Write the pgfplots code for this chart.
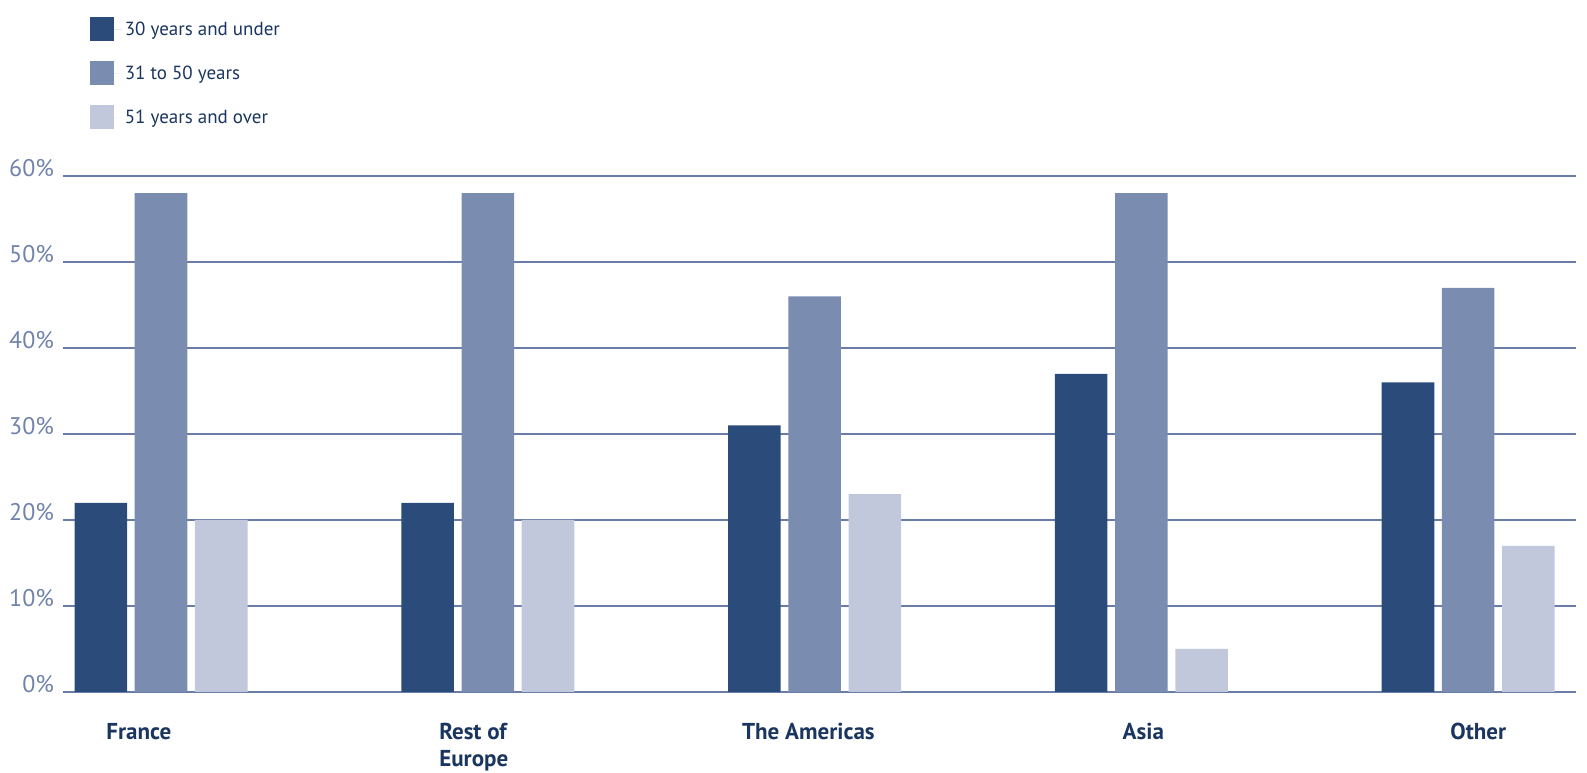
\documentclass[border=0pt]{standalone}
\usepackage{pgfplots}
\pgfplotsset{compat=1.18}
\usepackage{fontspec}
\setmainfont{PT Sans}
\definecolor{c1}{HTML}{2B4C7A}
\definecolor{c2}{HTML}{7A8CAF}
\definecolor{c3}{HTML}{C2C8DC}
\definecolor{gridc}{HTML}{6A7DA8}
\definecolor{tickc}{HTML}{7083AB}
\definecolor{navy}{HTML}{1A3560}
\begin{document}
\begin{tikzpicture}
\useasboundingbox (0,0) rectangle (793.5bp,386.5bp);
\begin{axis}[
  at={(31.5bp,40.5bp)}, anchor=south west,
  scale only axis, width=756.5bp, height=258bp,
  ymin=0, ymax=60, xmin=-0.3, xmax=4.33,
  ybar=3.8bp, bar width=26.3bp,
  axis line style={draw=none},
  ymajorgrids, grid style={gridc, line width=0.8bp},
  major tick length=0,
  ytick={0,10,...,60},
  yticklabel={\pgfmathprintnumber[assume math mode=true]{\tick}\%},
  yticklabel style={font=\fontsize{12bp}{14bp}\selectfont, text=tickc, xshift=-1bp, yshift=4bp},
  xtick={-0.068,0.957,1.981,3.006,4.031},
  xticklabels={France,{Rest of\\Europe},The Americas,Asia,Other},
  xticklabel style={font=\fontsize{11.5bp}{13.5bp}\selectfont\bfseries, text=navy, align=left, anchor=north, yshift=-12bp},
  legend image code/.code={\fill[#1] (0bp,-6bp) rectangle (12bp,6bp); \path (0bp,0bp) -- (16bp,0bp);},
  legend style={at={(rel axis cs:0.0135,1.318)}, anchor=north west, draw=none, fill=none,
    font=\fontsize{9.5bp}{11bp}\selectfont, text=navy, row sep=9bp,
    nodes={inner sep=1.5bp, text height=8bp, text depth=2bp}},
  legend cell align=left,
]
\addplot[fill=c1, draw=none] coordinates {(0,22) (1,22) (2,31) (3,37) (4,36)};
\addplot[fill=c2, draw=none] coordinates {(0,58) (1,58) (2,46) (3,58) (4,47)};
\addplot[fill=c3, draw=none] coordinates {(0,20) (1,20) (2,23) (3,5) (4,17)};
\legend{30 years and under, 31 to 50 years, 51 years and over}
\end{axis}
\end{tikzpicture}
\end{document}
